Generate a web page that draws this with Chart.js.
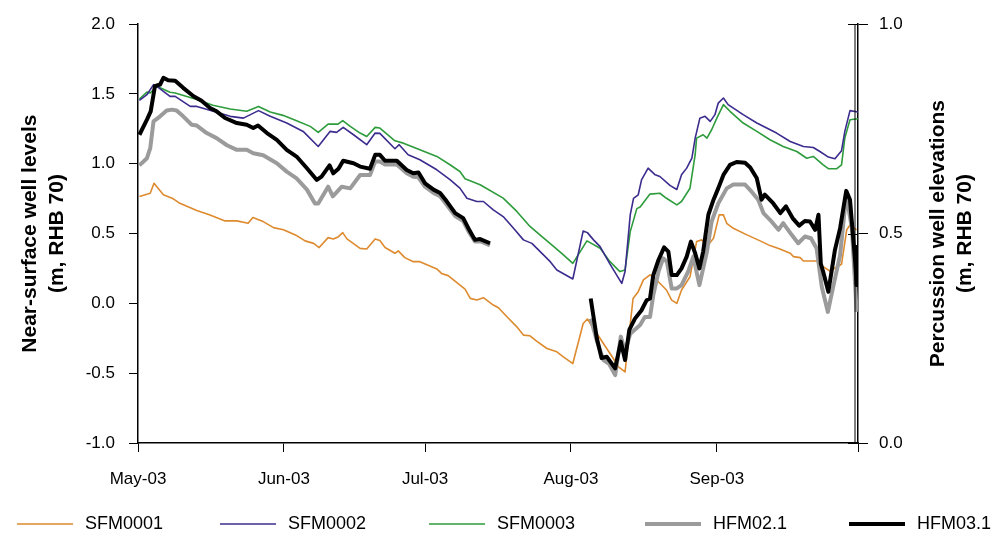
<!DOCTYPE html>
<html>
<head>
<meta charset="utf-8">
<script src="https://cdn.jsdelivr.net/npm/chart.js@4.4.1/dist/chart.umd.min.js"></script>
<style>
  body { margin: 0; background: #fff; }
  #wrap { width: 995px; height: 541px; }
</style>
</head>
<body>
<div id="wrap"><canvas id="wells" width="995" height="541"></canvas></div>
<script>
// x values are days since 1 May 2003
const monthDays = [0, 31, 61, 92, 123, 153];
const monthLabels = ['May-03', 'Jun-03', 'Jul-03', 'Aug-03', 'Sep-03', ''];

// near-surface wells (left axis, m RHB 70)
const sfm1Days = [0.3, 2.6, 3.4, 5.4, 7.5, 8.9, 12.5, 15.3, 18.5, 21.0, 23.4, 24.4, 26.6, 28.8, 30.9, 33.7, 35.5, 37.3, 38.5, 40.4, 41.5, 42.6, 43.5, 44.4, 47.2, 48.6, 50.4, 51.4, 52.5, 54.6, 55.3, 56.7, 58.5, 59.9, 63.5, 64.5, 65.9, 67.7, 69.5, 70.6, 72.0, 73.4, 75.5, 76.6, 78.4, 80.5, 81.9, 83.3, 84.7, 86.9, 89.0, 90.4, 92.4, 94.6, 95.5, 96.8, 98.9, 101.0, 102.1, 103.5, 105.2, 106.3, 107.4, 108.8, 110.2, 112.3, 113.4, 114.5, 115.5, 117.3, 118.7, 119.8, 120.9, 122.3, 123.5, 124.4, 125.1, 126.5, 129.4, 132.2, 134.3, 136.4, 138.6, 139.3, 140.7, 141.4, 144.2, 145.6, 147.0, 149.5, 150.6, 151.3, 152.7];
const sfm1Vals = [0.766, 0.789, 0.861, 0.778, 0.749, 0.717, 0.665, 0.634, 0.591, 0.591, 0.574, 0.615, 0.586, 0.543, 0.527, 0.486, 0.448, 0.430, 0.400, 0.471, 0.462, 0.478, 0.507, 0.462, 0.394, 0.390, 0.462, 0.450, 0.400, 0.359, 0.376, 0.328, 0.299, 0.299, 0.247, 0.215, 0.199, 0.150, 0.103, 0.036, 0.024, 0.041, -0.012, -0.031, -0.096, -0.168, -0.227, -0.232, -0.270, -0.323, -0.347, -0.383, -0.431, -0.144, -0.112, -0.180, -0.287, -0.395, -0.455, -0.491, 0.035, 0.084, 0.168, 0.204, 0.168, 0.096, 0.024, 0.000, 0.096, 0.191, 0.443, 0.455, 0.407, 0.466, 0.634, 0.634, 0.574, 0.538, 0.491, 0.448, 0.414, 0.390, 0.359, 0.335, 0.328, 0.304, 0.304, 0.263, 0.232, 0.280, 0.527, 0.562, 0.527];

const sfm2Days = [0.3, 1.9, 3.3, 4.0, 6.8, 7.9, 11.1, 12.5, 16.0, 19.6, 22.4, 25.6, 28.1, 31.6, 35.1, 38.3, 40.8, 42.2, 43.6, 45.8, 48.6, 50.4, 51.4, 54.6, 55.5, 57.4, 59.9, 63.5, 66.3, 68.4, 69.9, 72.0, 73.4, 75.5, 77.6, 79.8, 81.9, 83.7, 87.6, 89.0, 92.4, 94.6, 95.5, 96.8, 98.2, 100.3, 102.8, 103.5, 104.6, 105.3, 106.3, 107.0, 108.4, 109.9, 110.9, 113.1, 114.5, 115.5, 116.6, 117.7, 118.4, 119.4, 120.5, 121.6, 122.6, 123.3, 124.4, 125.4, 128.6, 131.5, 133.6, 135.7, 138.6, 141.4, 143.5, 144.9, 146.7, 148.1, 149.5, 150.2, 151.3, 153.0];
const sfm2Vals = [1.455, 1.495, 1.567, 1.555, 1.483, 1.483, 1.411, 1.411, 1.376, 1.340, 1.327, 1.381, 1.340, 1.292, 1.232, 1.124, 1.232, 1.225, 1.261, 1.208, 1.137, 1.220, 1.218, 1.108, 1.137, 1.065, 1.029, 0.957, 0.886, 0.826, 0.753, 0.730, 0.730, 0.670, 0.622, 0.538, 0.455, 0.430, 0.299, 0.239, 0.175, 0.519, 0.507, 0.455, 0.407, 0.281, 0.143, 0.228, 0.634, 0.753, 0.778, 0.885, 0.969, 0.921, 0.909, 0.844, 0.816, 0.921, 0.969, 1.040, 1.184, 1.327, 1.340, 1.304, 1.352, 1.435, 1.471, 1.424, 1.352, 1.292, 1.256, 1.220, 1.160, 1.124, 1.117, 1.088, 1.048, 1.036, 1.094, 1.232, 1.381, 1.371];

const sfm3Days = [0.3, 1.9, 2.6, 4.0, 6.8, 7.9, 12.5, 15.9, 19.6, 23.1, 25.6, 28.1, 30.8, 33.7, 36.6, 38.3, 40.4, 42.5, 43.5, 45.1, 47.2, 48.6, 50.4, 51.4, 54.6, 56.4, 59.9, 63.5, 66.3, 68.4, 69.5, 72.7, 77.6, 80.5, 83.3, 85.4, 88.3, 90.4, 92.4, 95.4, 98.2, 100.3, 102.4, 103.5, 104.6, 106.0, 106.7, 108.8, 110.9, 112.3, 114.5, 115.5, 117.3, 118.4, 118.7, 120.1, 120.9, 121.9, 123.0, 124.4, 125.8, 128.6, 131.5, 134.3, 137.1, 140.0, 142.1, 143.5, 145.6, 146.7, 148.5, 149.5, 150.2, 151.3, 153.0];
const sfm3Vals = [1.464, 1.514, 1.507, 1.555, 1.512, 1.507, 1.460, 1.419, 1.392, 1.376, 1.411, 1.371, 1.347, 1.309, 1.268, 1.225, 1.284, 1.284, 1.309, 1.268, 1.220, 1.196, 1.261, 1.256, 1.165, 1.148, 1.101, 1.053, 0.993, 0.945, 0.893, 0.850, 0.754, 0.659, 0.551, 0.491, 0.408, 0.348, 0.287, 0.448, 0.395, 0.299, 0.228, 0.240, 0.514, 0.679, 0.690, 0.783, 0.789, 0.753, 0.706, 0.730, 0.825, 1.065, 1.184, 1.208, 1.184, 1.244, 1.327, 1.424, 1.376, 1.292, 1.232, 1.172, 1.124, 1.088, 1.040, 1.053, 0.993, 0.965, 0.965, 0.993, 1.184, 1.316, 1.323];

// percussion wells (right axis, m RHB 70); null marks the gap in the record
const hfm02Days = [0.3, 1.9, 2.6, 3.3, 4.7, 6.1, 7.2, 8.2, 9.6, 11.4, 12.5, 14.6, 16.7, 18.9, 21.0, 23.1, 24.5, 26.6, 29.5, 31.6, 33.7, 35.9, 37.6, 38.3, 40.4, 41.4, 43.3, 45.1, 47.2, 49.3, 50.4, 51.4, 52.5, 55.0, 57.1, 58.5, 59.5, 61.0, 62.8, 64.2, 65.6, 67.4, 69.1, 70.2, 71.6, 72.7, 74.8, 85.0, 96.2, 97.5, 98.9, 100.1, 101.4, 102.6, 103.5, 104.6, 106.7, 107.7, 108.8, 109.5, 110.6, 111.6, 112.4, 113.4, 114.5, 115.5, 116.9, 118.0, 119.3, 120.9, 121.9, 123.3, 125.1, 126.5, 129.0, 130.4, 131.8, 132.9, 134.3, 136.1, 137.1, 138.9, 140.3, 141.7, 143.0, 144.2, 145.3, 146.6, 147.8, 149.2, 150.5, 151.7, 152.4, 152.7];
const hfm02Vals = [0.663, 0.680, 0.704, 0.768, 0.780, 0.794, 0.796, 0.794, 0.780, 0.760, 0.758, 0.740, 0.728, 0.711, 0.700, 0.700, 0.692, 0.687, 0.668, 0.648, 0.632, 0.605, 0.572, 0.572, 0.612, 0.589, 0.612, 0.608, 0.640, 0.640, 0.672, 0.672, 0.665, 0.665, 0.644, 0.636, 0.635, 0.612, 0.597, 0.589, 0.569, 0.542, 0.530, 0.506, 0.481, 0.482, 0.472, null, 0.297, 0.244, 0.198, 0.189, 0.162, 0.254, 0.218, 0.261, 0.282, 0.301, 0.301, 0.353, 0.409, 0.441, 0.433, 0.369, 0.369, 0.377, 0.409, 0.445, 0.377, 0.457, 0.529, 0.572, 0.608, 0.617, 0.617, 0.600, 0.581, 0.549, 0.533, 0.509, 0.525, 0.497, 0.477, 0.493, 0.489, 0.465, 0.373, 0.313, 0.377, 0.449, 0.593, 0.513, 0.377, 0.313];

const hfm03Days = [0.3, 1.9, 2.7, 3.6, 4.7, 5.4, 6.4, 7.9, 9.6, 11.8, 13.5, 15.3, 16.7, 18.5, 21.0, 23.1, 24.5, 25.5, 27.4, 29.5, 31.6, 33.7, 35.9, 38.0, 39.0, 40.7, 41.5, 42.6, 43.6, 45.8, 47.2, 49.3, 50.4, 51.4, 52.5, 55.0, 57.1, 58.5, 59.6, 61.0, 62.8, 64.2, 65.6, 67.4, 69.1, 70.2, 71.6, 72.7, 74.8, 85.0, 96.2, 97.5, 98.5, 99.6, 101.4, 102.6, 103.5, 104.4, 105.6, 107.0, 108.1, 108.8, 109.5, 110.6, 111.8, 112.7, 113.4, 114.5, 115.5, 116.6, 117.5, 118.4, 119.3, 120.1, 121.2, 122.3, 123.3, 124.4, 125.8, 127.2, 129.0, 130.1, 131.5, 132.5, 133.2, 135.0, 136.5, 137.7, 139.1, 140.5, 141.7, 142.8, 143.9, 144.6, 145.1, 145.6, 146.7, 148.1, 149.2, 150.5, 151.3, 152.4, 152.7, 152.9];
const hfm03Vals = [0.736, 0.772, 0.792, 0.852, 0.856, 0.872, 0.866, 0.865, 0.848, 0.828, 0.817, 0.800, 0.792, 0.776, 0.764, 0.760, 0.752, 0.758, 0.740, 0.724, 0.700, 0.684, 0.656, 0.628, 0.636, 0.663, 0.644, 0.655, 0.674, 0.668, 0.660, 0.655, 0.688, 0.688, 0.674, 0.674, 0.652, 0.644, 0.646, 0.620, 0.605, 0.597, 0.577, 0.549, 0.537, 0.513, 0.485, 0.487, 0.477, null, 0.345, 0.250, 0.203, 0.206, 0.178, 0.242, 0.198, 0.270, 0.297, 0.317, 0.341, 0.345, 0.401, 0.437, 0.467, 0.457, 0.401, 0.401, 0.417, 0.445, 0.481, 0.453, 0.417, 0.457, 0.545, 0.581, 0.608, 0.640, 0.664, 0.671, 0.669, 0.658, 0.632, 0.581, 0.593, 0.572, 0.549, 0.565, 0.537, 0.519, 0.530, 0.529, 0.509, 0.545, 0.428, 0.409, 0.361, 0.461, 0.513, 0.602, 0.581, 0.433, 0.377, 0.473];

const seriesNames = ['SFM0001', 'SFM0002', 'SFM0003', 'HFM02.1', 'HFM03.1'];
const seriesColors = ['#DE8A2E', '#3B2C8E', '#2E9C3C', '#9B9B9B', '#000000'];
const seriesWidths = [1.6, 1.6, 1.6, 4, 4];

function toPoints(days, vals) {
    return days.map((d, i) => ({ x: d, y: vals[i] }));
}

const FONT = '"Liberation Sans", Arial, sans-serif';

// legend along the bottom, evenly spread like the original
const bottomLegend = {
    id: 'bottomLegend',
    afterDraw(chart) {
        const ctx = chart.ctx;
        const startX = [17, 220, 429, 645, 849];
        const y = 524;
        ctx.save();
        ctx.font = '18px ' + FONT;
        ctx.textBaseline = 'middle';
        ctx.fillStyle = '#000';
        seriesNames.forEach((name, i) => {
            ctx.strokeStyle = seriesColors[i];
            ctx.lineWidth = seriesWidths[i];
            ctx.beginPath();
            ctx.moveTo(startX[i], y);
            ctx.lineTo(startX[i] + 56, y);
            ctx.stroke();
            ctx.fillText(name, startX[i] + 68, y);
        });
        ctx.restore();
    }
};

// right-hand title reads bottom-to-top like the left one,
// and the right axis has a double line with ticks crossing it
const rightAxisExtras = {
    id: 'rightAxisExtras',
    afterDraw(chart) {
        const ctx = chart.ctx;
        const area = chart.chartArea;
        const y1 = chart.scales.y1;
        const cy = (area.top + area.bottom) / 2;
        ctx.save();
        ctx.strokeStyle = '#000';
        ctx.lineWidth = 1;
        ctx.beginPath();
        ctx.moveTo(area.right - 3, area.top);
        ctx.lineTo(area.right - 3, area.bottom);
        y1.ticks.forEach(t => {
            const py = Math.round(y1.getPixelForValue(t.value)) + 0.5;
            ctx.moveTo(area.right - 10, py);
            ctx.lineTo(area.right, py);
        });
        ctx.stroke();

        ctx.font = 'bold 21px ' + FONT;
        ctx.fillStyle = '#000';
        ctx.textAlign = 'center';
        ctx.textBaseline = 'middle';
        ctx.translate(938, cy);
        ctx.rotate(-Math.PI / 2);
        ctx.fillText('Percussion well elevations', 0, 0);
        ctx.fillText('(m, RHB 70)', 0, 27);
        ctx.restore();
    }
};

const ctx = document.getElementById('wells').getContext('2d');
const datasets = [
    { label: seriesNames[4], data: toPoints(hfm03Days, hfm03Vals), yAxisID: 'y1', order: 0 },
    { label: seriesNames[3], data: toPoints(hfm02Days, hfm02Vals), yAxisID: 'y1', order: 1 },
    { label: seriesNames[0], data: toPoints(sfm1Days, sfm1Vals), yAxisID: 'y', order: 2 },
    { label: seriesNames[1], data: toPoints(sfm2Days, sfm2Vals), yAxisID: 'y', order: 3 },
    { label: seriesNames[2], data: toPoints(sfm3Days, sfm3Vals), yAxisID: 'y', order: 4 }
].map(ds => {
    const i = seriesNames.indexOf(ds.label);
    return Object.assign(ds, {
        borderColor: seriesColors[i],
        borderWidth: seriesWidths[i],
        pointRadius: 0,
        tension: 0,
        fill: false,
        spanGaps: false,
        borderJoinStyle: 'round'
    });
});

new Chart(ctx, {
    type: 'line',
    data: { datasets: datasets },
    options: {
        responsive: false,
        animation: false,
        layout: { padding: { top: 23, left: 0, right: 0, bottom: 0 } },
        plugins: {
            legend: { display: false },
            tooltip: { enabled: false }
        },
        scales: {
            x: {
                type: 'linear',
                min: 0,
                max: 153,
                afterBuildTicks: scale => {
                    scale.ticks = monthDays.map(v => ({ value: v }));
                },
                afterFit: scale => { scale.height = 98; },
                ticks: {
                    autoSkip: false,
                    maxRotation: 0,
                    padding: 17,
                    color: '#000',
                    font: { family: FONT, size: 17 },
                    callback: value => monthLabels[monthDays.indexOf(value)]
                },
                grid: { drawOnChartArea: false, tickLength: 9, color: '#000', lineWidth: 1 },
                border: { color: '#000', width: 1.5 }
            },
            y: {
                position: 'left',
                min: -1,
                max: 2,
                afterFit: scale => { scale.width = 138; },
                ticks: {
                    stepSize: 0.5,
                    padding: 14,
                    color: '#000',
                    font: { family: FONT, size: 17 },
                    callback: value => value.toFixed(1)
                },
                grid: { drawOnChartArea: false, tickLength: 9, color: '#000', lineWidth: 1 },
                border: { color: '#000', width: 1.5 },
                title: {
                    display: true,
                    text: ['Near-surface well levels', '(m, RHB 70)'],
                    color: '#000',
                    font: { family: FONT, size: 21, weight: 'bold', lineHeight: 1.28 },
                    padding: { top: 17, bottom: 0 }
                }
            },
            y1: {
                position: 'right',
                min: 0,
                max: 1,
                afterFit: scale => { scale.width = 137; },
                ticks: {
                    stepSize: 0.5,
                    padding: 11,
                    color: '#000',
                    font: { family: FONT, size: 17 },
                    callback: value => value.toFixed(1)
                },
                grid: { drawOnChartArea: false, tickLength: 10, color: '#000', lineWidth: 1 },
                border: { color: '#000', width: 1.5 }
            }
        }
    },
    plugins: [bottomLegend, rightAxisExtras]
});
</script>
</body>
</html>
